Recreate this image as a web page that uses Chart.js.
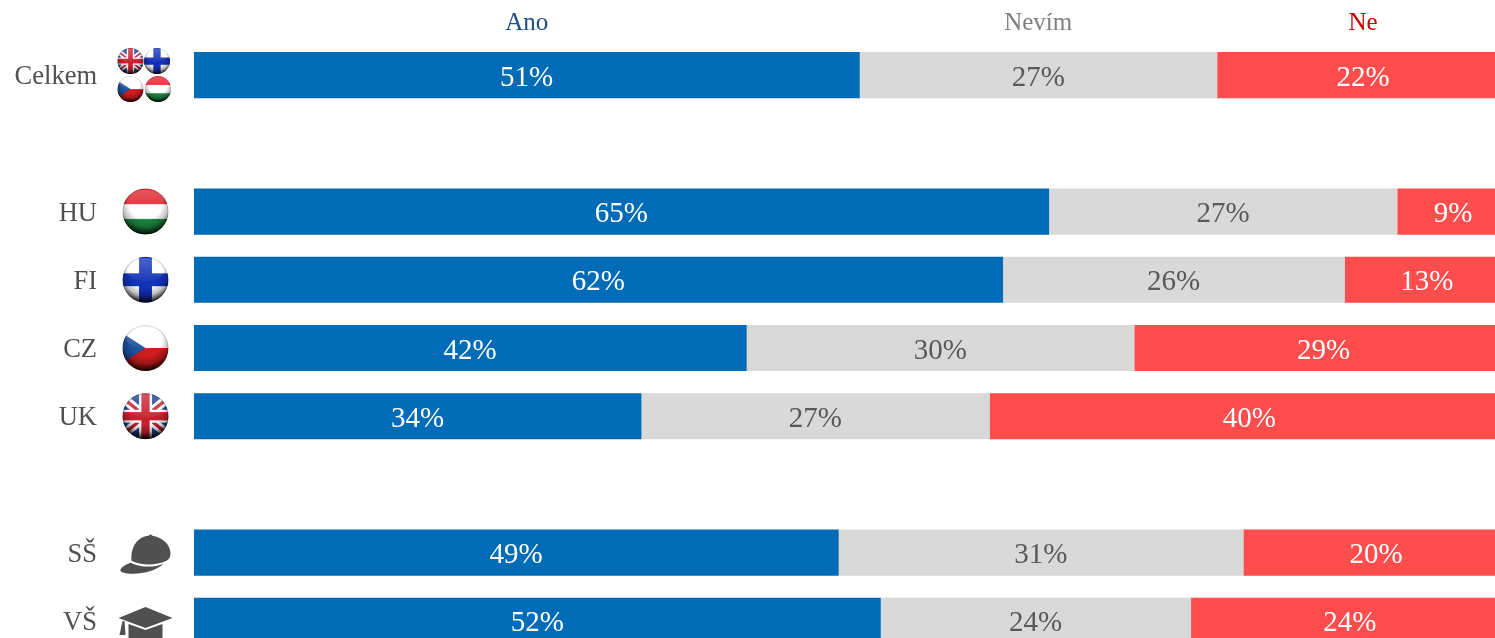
<!DOCTYPE html>
<html lang="cs">
<head>
<meta charset="utf-8">
<title>Ano / Nevím / Ne</title>
<script src="https://cdn.jsdelivr.net/npm/chart.js@4"></script>
<style>
  html, body { margin: 0; padding: 0; background: #fff; overflow: hidden; }
  #wrap { width: 1495px; height: 638px; overflow: hidden; }
  canvas { display: block; }
</style>
</head>
<body>
<div id="wrap"><canvas id="chart" width="1509" height="671"></canvas></div>
<script>
// Blank categories are the gaps between the three groups
const categories = ['Celkem', '', 'HU', 'FI', 'CZ', 'UK', '', 'SŠ', 'VŠ'];
const icons = ['all', null, 'hu', 'fi', 'cz', 'uk', null, 'cap', 'grad'];

const seriesNames = ['Ano', 'Nevím', 'Ne'];
const anoValues = [50.6, null, 65.0, 61.5, 42.0, 34.0, null, 49.0, 52.2];
const nevimValues = [27.2, null, 26.5, 26.0, 29.5, 26.5, null, 30.8, 23.6];
const neValues = [22.2, null, 8.5, 12.5, 28.8, 39.5, null, 20.2, 24.2];

const barColors = ['#006cb8', '#d9d9d9', '#ff4d4d'];
const valueColors = ['#ffffff', '#595959', '#ffffff'];
const headerColors = ['#1f4e85', '#7f7f7f', '#cc0000'];
const fontName = '"Liberation Serif", serif';

// Glossy ball flags
function drawFlag(ctx, kind, cx, cy, r) {
  ctx.save();
  ctx.beginPath();
  ctx.arc(cx, cy, r, 0, Math.PI * 2);
  ctx.clip();
  const x = cx - r, y = cy - r, d = r * 2;
  if (kind === 'hu') {
    ctx.fillStyle = '#ffffff';
    ctx.fillRect(x, y, d, d);
    ctx.fillStyle = '#e0222a';
    ctx.fillRect(x, y, d, d * 0.34);
    ctx.fillStyle = '#1f8a42';
    ctx.fillRect(x, y + d * 0.66, d, d * 0.34);
  } else if (kind === 'fi') {
    ctx.fillStyle = '#ffffff';
    ctx.fillRect(x, y, d, d);
    ctx.fillStyle = '#1231b8';
    ctx.fillRect(x + d * 0.36, y, d * 0.28, d);
    ctx.fillRect(x, y + d * 0.36, d, d * 0.28);
  } else if (kind === 'cz') {
    ctx.fillStyle = '#ffffff';
    ctx.fillRect(x, y, d, d * 0.5);
    ctx.fillStyle = '#d01c1f';
    ctx.fillRect(x, y + d * 0.5, d, d * 0.5);
    ctx.fillStyle = '#1d4f9c';
    ctx.beginPath();
    ctx.moveTo(x, y + d * 0.18);
    ctx.lineTo(x + d * 0.5, y + d * 0.5);
    ctx.lineTo(x, y + d * 0.82);
    ctx.fill();
  } else if (kind === 'uk') {
    ctx.fillStyle = '#1b3f8f';
    ctx.fillRect(x, y, d, d);
    ctx.lineWidth = d * 0.2;
    ctx.strokeStyle = '#ffffff';
    ctx.beginPath();
    ctx.moveTo(x, y + d * 0.1);
    ctx.lineTo(x + d, y + d * 0.9);
    ctx.moveTo(x + d, y + d * 0.1);
    ctx.lineTo(x, y + d * 0.9);
    ctx.stroke();
    ctx.lineWidth = d * 0.07;
    ctx.strokeStyle = '#c8202f';
    ctx.stroke();
    ctx.fillStyle = '#ffffff';
    ctx.fillRect(x + d * 0.36, y, d * 0.28, d);
    ctx.fillRect(x, y + d * 0.36, d, d * 0.28);
    ctx.fillStyle = '#c8202f';
    ctx.fillRect(x + d * 0.41, y, d * 0.18, d);
    ctx.fillRect(x, y + d * 0.41, d, d * 0.18);
  }
  // shadow, heavier towards the bottom
  const shade = ctx.createRadialGradient(cx, cy - r * 0.35, r * 0.7, cx, cy - r * 0.35, r * 1.35);
  shade.addColorStop(0, 'rgba(0,0,0,0)');
  shade.addColorStop(0.5, 'rgba(0,0,0,0.25)');
  shade.addColorStop(1, 'rgba(0,0,0,0.95)');
  ctx.fillStyle = shade;
  ctx.fillRect(x, y, d, d);
  // gloss on the upper half
  const gloss = ctx.createLinearGradient(0, y, 0, cy);
  gloss.addColorStop(0, 'rgba(255,255,255,0.25)');
  gloss.addColorStop(1, 'rgba(255,255,255,0.05)');
  ctx.fillStyle = gloss;
  ctx.beginPath();
  ctx.ellipse(cx, cy - r * 0.45, r * 0.85, r * 0.5, 0, 0, Math.PI * 2);
  ctx.fill();
  // thin rim
  ctx.strokeStyle = 'rgba(0,0,0,0.14)';
  ctx.lineWidth = r * 0.1;
  ctx.beginPath();
  ctx.arc(cx, cy, r, 0, Math.PI * 2);
  ctx.stroke();
  ctx.restore();
}

function drawCap(ctx, cx, cy) {
  ctx.save();
  ctx.translate(cx, cy);
  ctx.fillStyle = '#505050';
  ctx.beginPath();
  ctx.moveTo(-14, 8);
  ctx.bezierCurveTo(-15, -6, -8, -16, 3, -17);
  ctx.lineTo(5, -18.5);
  ctx.lineTo(7, -17);
  ctx.bezierCurveTo(18, -15, 25, -8, 25, 1);
  ctx.bezierCurveTo(25, 4, 24, 6, 21, 8);
  ctx.bezierCurveTo(10, 13, -4, 13, -14, 8);
  ctx.fill();
  ctx.beginPath();
  ctx.moveTo(-15, 10);
  ctx.bezierCurveTo(-4, 15, 8, 15, 18, 11);
  ctx.bezierCurveTo(12, 17, 0, 21, -13, 21);
  ctx.bezierCurveTo(-21, 21, -26, 19, -25, 17);
  ctx.bezierCurveTo(-24, 14, -20, 12, -15, 10);
  ctx.fill();
  ctx.restore();
}

function drawGrad(ctx, cx, cy) {
  ctx.save();
  ctx.translate(cx, cy);
  ctx.fillStyle = '#505050';
  ctx.beginPath();
  ctx.moveTo(-27, -3);
  ctx.lineTo(0, -14);
  ctx.lineTo(27, -3);
  ctx.lineTo(0, 7);
  ctx.fill();
  ctx.beginPath();
  ctx.moveTo(-17, 3);
  ctx.lineTo(0, 9);
  ctx.lineTo(17, 3);
  ctx.lineTo(17, 20);
  ctx.lineTo(-17, 20);
  ctx.fill();
  ctx.beginPath();
  ctx.moveTo(-23, 0);
  ctx.lineTo(-21, 0);
  ctx.lineTo(-20, 14);
  ctx.lineTo(-26, 14);
  ctx.fill();
  ctx.restore();
}

const rowDecor = {
  id: 'rowDecor',
  afterDatasetsDraw(chart) {
    const { ctx, scales } = chart;
    const iconX = 145.5;

    icons.forEach((icon, i) => {
      if (!icon) return;
      const y = scales.y.getPixelForValue(i);
      if (icon === 'all') {
        drawFlag(ctx, 'uk', 130.5, y - 14, 13);
        drawFlag(ctx, 'fi', 157, y - 14, 13);
        drawFlag(ctx, 'cz', 130.5, y + 14, 13);
        drawFlag(ctx, 'hu', 158, y + 14, 13);
      } else if (icon === 'cap') {
        drawCap(ctx, iconX, y);
      } else if (icon === 'grad') {
        drawGrad(ctx, iconX, y);
      } else {
        drawFlag(ctx, icon, iconX, y, 23);
      }
    });

    ctx.save();
    ctx.textAlign = 'center';
    ctx.textBaseline = 'middle';
    chart.data.datasets.forEach((ds, d) => {
      const bars = chart.getDatasetMeta(d).data;
      // series name above the first bar
      ctx.font = '25px ' + fontName;
      ctx.fillStyle = headerColors[d];
      ctx.fillText(ds.label, bars[0].getCenterPoint().x, 23);
      // value inside each segment
      ctx.font = '29px ' + fontName;
      ctx.fillStyle = valueColors[d];
      ds.data.forEach((v, i) => {
        if (v === null) return;
        const p = bars[i].getCenterPoint();
        ctx.fillText(Math.round(v) + '%', p.x, p.y + 3);
      });
    });
    ctx.restore();
  }
};

new Chart(document.getElementById('chart').getContext('2d'), {
  type: 'bar',
  data: {
    labels: categories,
    datasets: [anoValues, nevimValues, neValues].map((values, i) => ({
      label: seriesNames[i],
      data: values,
      backgroundColor: barColors[i],
      borderWidth: 0,
      barThickness: 45.5
    }))
  },
  options: {
    indexAxis: 'y',
    responsive: false,
    animation: false,
    layout: { padding: { top: 41, right: 0, bottom: 16, left: 0 } },
    plugins: {
      legend: { display: false },
      tooltip: { enabled: false }
    },
    scales: {
      // a little overrun on the CZ row is clipped by the axis range
      x: { stacked: true, min: 0, max: 100, display: false },
      y: {
        stacked: true,
        afterFit: scale => { scale.width = 194; },
        // invisible tick length pushes the labels away from the bars
        grid: { display: false, drawTicks: true, tickLength: 97 },
        border: { display: false },
        ticks: {
          padding: 0,
          labelOffset: 2,
          autoSkip: false,
          color: '#505050',
          font: { family: fontName, size: 26.5 }
        }
      }
    }
  },
  plugins: [rowDecor]
});
</script>
</body>
</html>
